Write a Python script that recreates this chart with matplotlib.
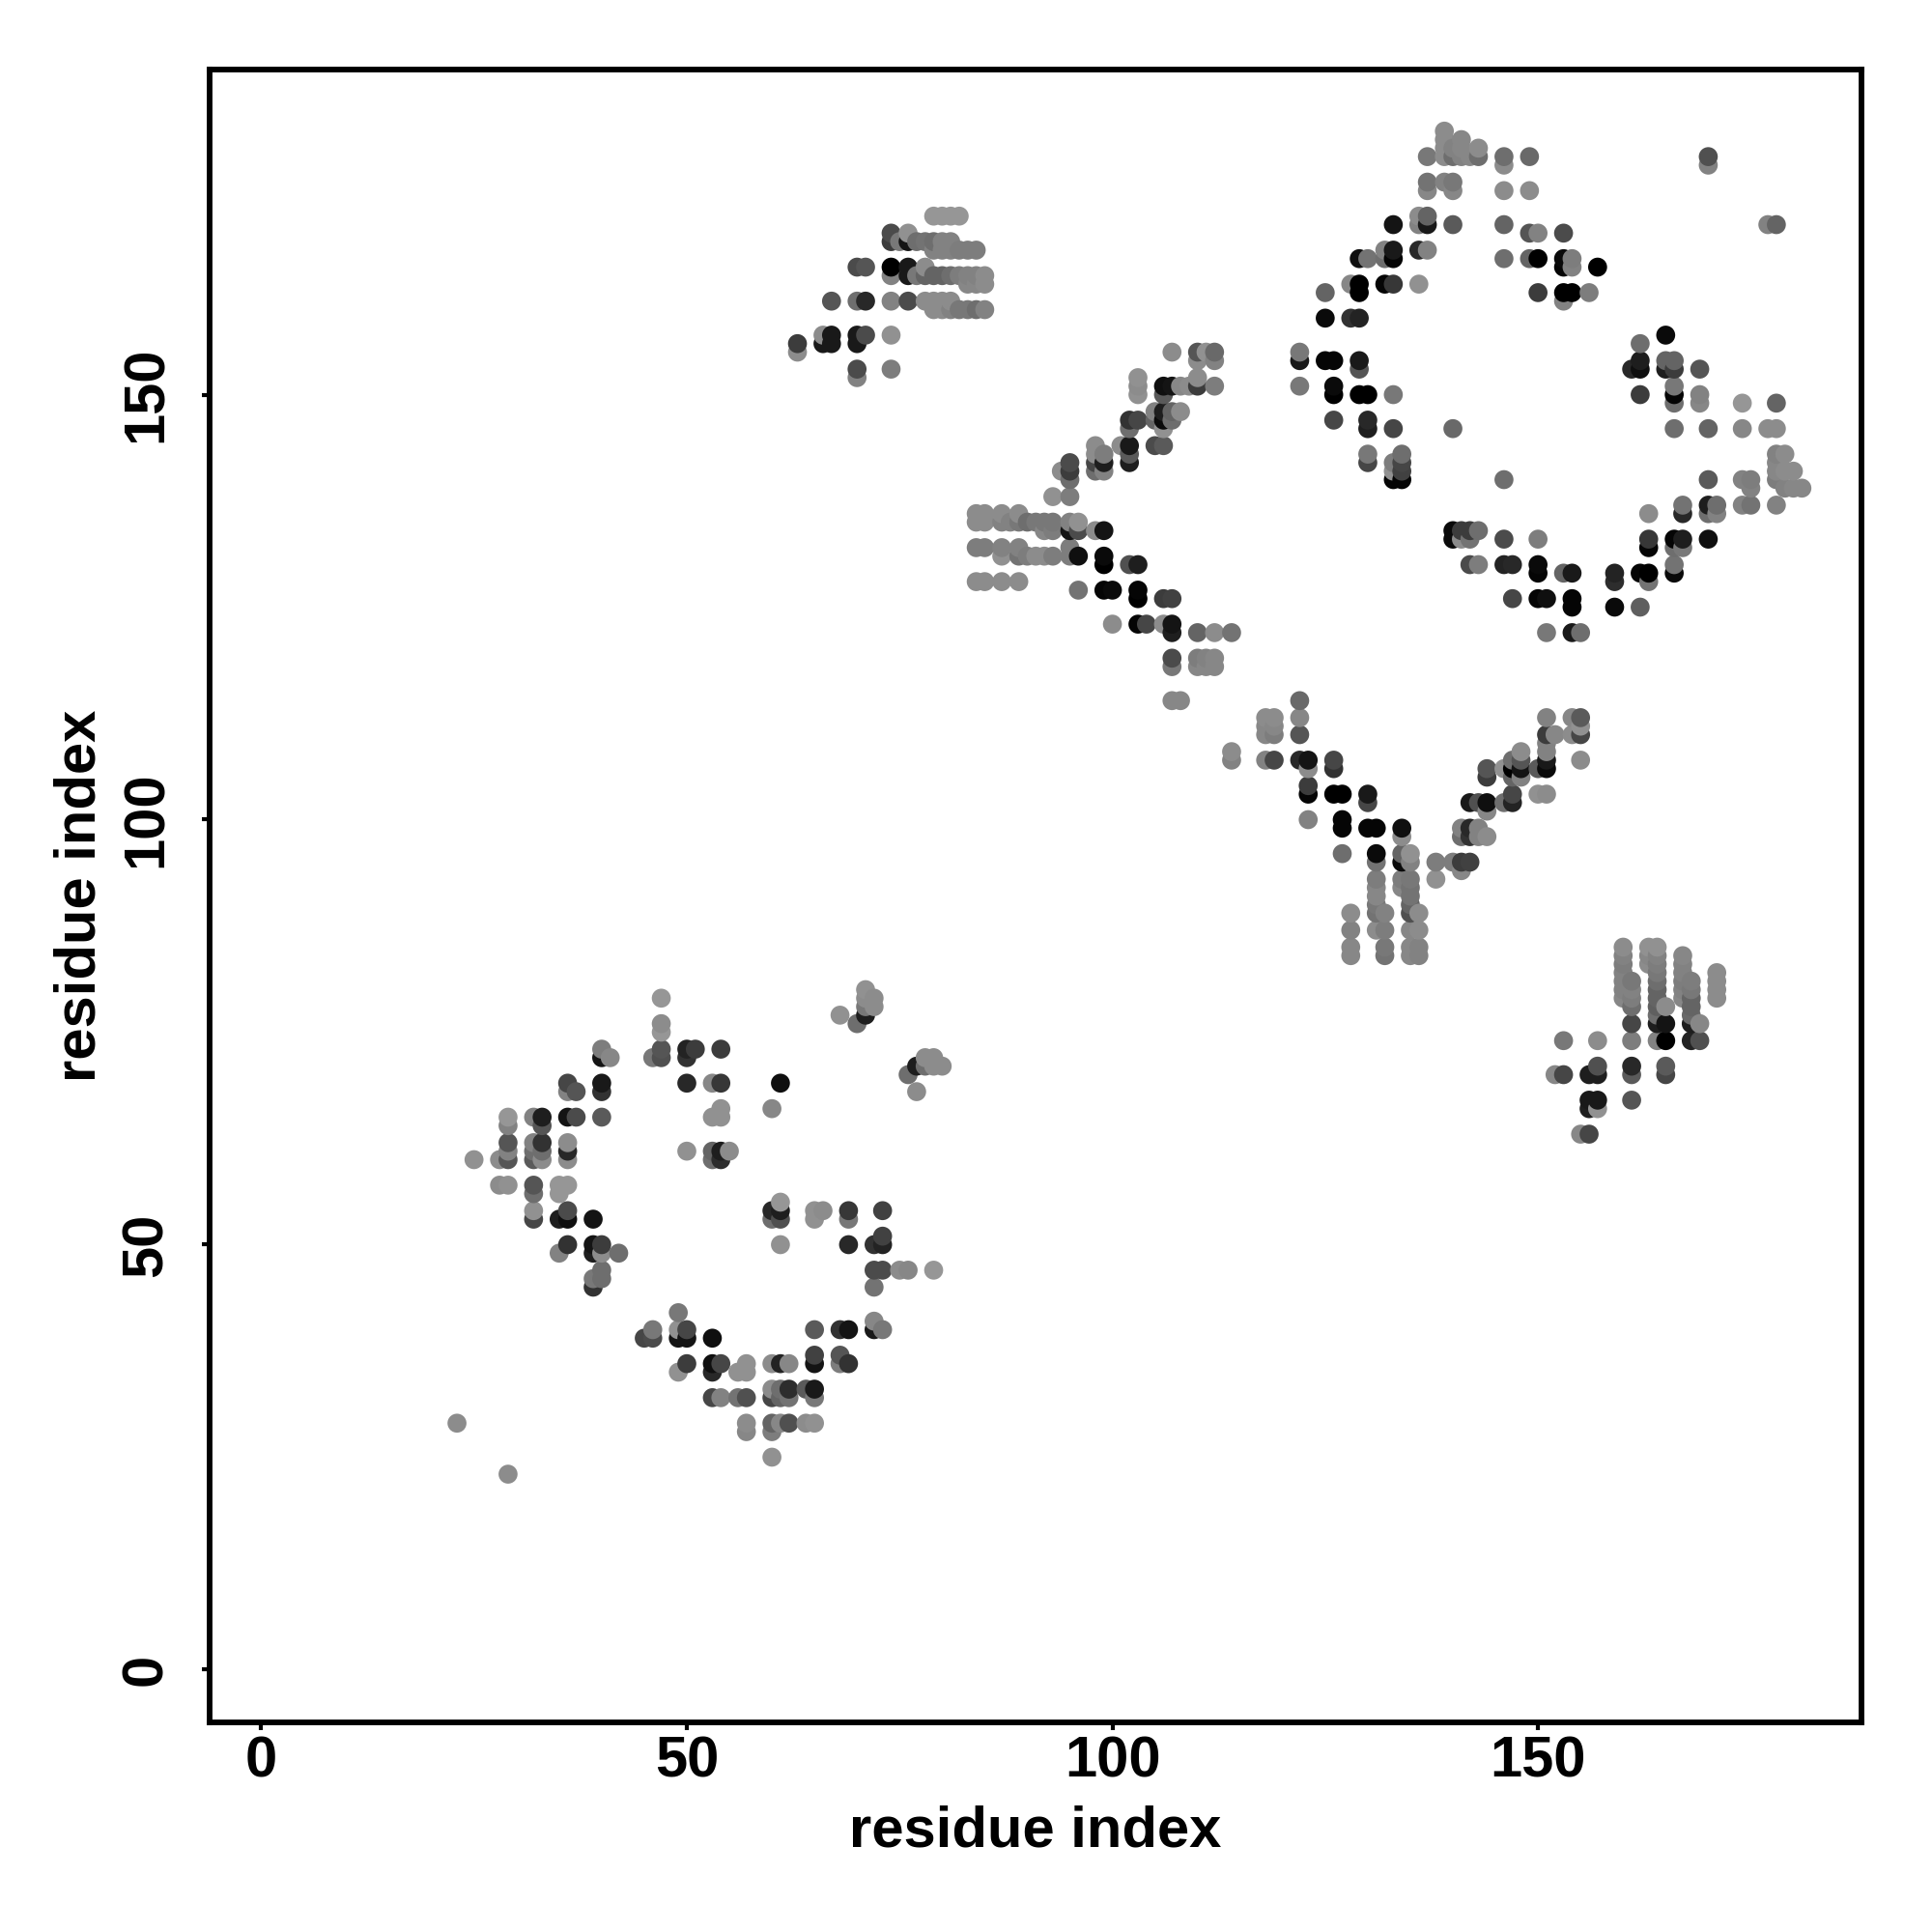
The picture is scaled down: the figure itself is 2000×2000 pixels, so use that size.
import matplotlib
matplotlib.use("Agg")
import matplotlib.pyplot as plt
import numpy as np

plt.rcParams['font.family'] = ['Liberation Sans', 'DejaVu Sans']

# contacts as (residue x, residue y, grey level 0-255)
lower_left_a = [(23,29,140),(29,23,140),(25,60,145),(28,60,140),(29,60,85),(29,61,130),(29,62,85),(29,64,130),(29,65,150),
 (28,57,140),(29,57,145),(32,65,130),(33,65,30),(33,64,85),(32,62,130),(32,61,110),(32,60,90),(33,62,50),(33,61,110),(33,60,140),
 (32,57,85),(32,56,110),(32,54,145),(32,53,70),(35,57,150),(35,56,150),(36,57,150),(36,62,140),(36,61,40),(36,60,140),
 (36,65,20),(37,65,75),(36,68,130),(36,69,70),(37,68,85),(40,69,25),(40,68,50),(40,65,90),(40,72,20),(40,73,125),(41,72,135),
 (35,53,30),(36,53,15),(36,54,75),(39,53,20),(47,79,150),(47,76,140),(47,75,150),(47,73,85),(47,72,80),(46,72,120),
 (50,73,35),(50,72,50),(51,73,60),(50,69,40),(50,61,145),(54,73,60),(53,69,135),(54,69,55),(54,66,145),(53,65,145),(54,65,145),
 (53,61,100),(54,61,30),(55,61,140),(53,60,110),(54,60,45),(61,69,15),(60,66,135),
 (35,49,130),(36,50,50),(39,50,20),(40,50,60),(39,49,30),(40,49,140),(42,49,110),(40,47,110),(40,46,110),(39,46,120),(39,45,50)]
lower_left_b = [(71,80,145),(71,79,140),(72,79,140),(72,78,140),(71,78,120),(71,77,30),(70,76,110),(68,77,145),
 (77,68,140),(76,70,110),(77,71,30),(78,71,110),(78,72,140),(79,72,140),(79,71,140),(80,71,140),
 (61,55,150),(61,54,30),(61,53,80),(60,54,40),(60,53,110),(61,50,145),(65,54,145),(65,53,145),(66,54,140),
 (69,54,55),(69,53,120),(69,50,40),(73,54,65),(73,51,65),(72,50,50),(73,50,35),(72,47,75),(73,47,75),(75,47,140),(76,47,135),(79,47,150),
 (72,45,115),(49,42,120),(46,40,120),(49,40,145),(50,40,70),(45,39,70),(46,39,75),(49,39,20),(50,39,20),(53,39,15),
 (50,36,60),(53,36,15),(54,36,70),(57,36,145),(49,35,145),(53,35,40),(56,35,145),(57,35,145),(60,36,140),(61,36,35),(62,36,135),
 (65,37,65),(65,36,20),(68,37,85),(68,36,125),(69,36,50),(65,40,90),(68,40,50),(69,40,20),(72,41,135),(72,40,25),(73,40,120),
 (60,33,140),(61,33,110),(62,33,45),(64,33,90),(65,33,25),(53,32,70),(54,32,130),(56,32,115),(57,32,80),(60,32,70),(61,32,100),(62,32,115),(65,32,120),
 (57,29,140),(60,29,100),(61,29,135),(62,29,80),(64,29,140),(65,29,145),(57,28,135),(60,28,125),(60,25,145)]
upper_mid = [(63,156,60),(63,155,140),(66,157,140),(66,156,25),(67,157,25),(67,156,25),(70,157,25),(70,156,25),(71,157,75),(74,157,145),
 (70,153,75),(70,152,130),(74,153,125),(67,161,85),(70,161,110),(71,161,40),(74,161,130),(76,161,75),(78,161,140),(79,161,140),(80,161,140),(81,161,140),
 (79,160,140),(80,160,140),(81,160,130),(82,160,120),(83,160,120),(84,160,110),(85,160,130),
 (70,165,75),(71,165,85),(74,165,0),(76,165,25),(78,165,140),(74,164,130),(76,164,25),(77,164,120),(78,164,100),(79,164,100),(80,164,100),(81,164,110),(82,164,125),(83,164,130),(84,164,130),(85,164,140),
 (83,163,135),(84,163,135),(85,163,140),(74,169,75),(76,169,145),(74,168,60),(75,168,120),(76,168,20),(77,168,110),(78,168,115),(79,168,110),(80,168,130),(81,168,130),
 (79,167,130),(80,167,130),(81,167,130),(82,167,125),(83,167,125),(84,167,125),(79,171,150),(80,171,150),(81,171,150),(82,171,150)]
diagonal_up = [(107,155,140),(110,155,85),(111,155,145),(112,155,105),(110,154,140),(112,154,130),(103,152,145),(110,152,140),
 (103,151,140),(106,151,15),(107,151,20),(108,151,135),(109,151,140),(110,151,60),(112,151,125),(103,150,145),(106,150,90),
 (105,148,130),(106,148,30),(107,148,100),(108,148,140),(102,147,50),(103,147,70),(105,147,100),(106,147,10),(107,147,110),(102,146,110),(106,146,145),
 (101,144,140),(102,144,25),(105,144,75),(106,144,90),(98,144,140),(98,143,140),(102,143,90),(99,143,125),(95,142,75),(98,142,70),(99,142,30),(102,142,30),
 (94,141,140),(95,141,60),(98,141,110),(99,141,130),(95,140,110),(93,138,145),(95,138,125)]
diagonal_band = [(84,136,140),(85,136,140),(87,136,140),(89,136,140),(84,135,140),(85,135,140),(87,135,130),(88,135,130),(89,135,120),(90,135,110),(91,135,120),(92,135,120),(93,135,120),(95,135,130),(96,135,145),
 (92,134,135),(93,134,125),(95,134,20),(96,134,75),(98,134,140),(99,134,20),(84,132,125),(85,132,125),(87,132,130),(89,132,130),(95,132,125),
 (87,131,145),(89,131,115),(90,131,125),(91,131,140),(92,131,140),(93,131,125),(95,131,125),(96,131,15),(99,131,10),(99,130,0),(102,130,80),(103,130,30),
 (84,128,140),(85,128,140),(87,128,140),(89,128,140),(96,127,115),(99,127,5),(100,127,10),(103,127,5),(103,126,0),(106,126,60),(107,126,65),
 (100,123,140),(103,123,5),(104,123,70),(106,123,140),(107,123,20),(107,122,30),(110,122,100),(112,122,140),(114,122,115),
 (107,119,75),(110,119,125),(111,119,130),(112,119,135),(107,118,120),(110,118,135),(111,118,135),(112,118,135),(107,114,135),(108,114,135)]
v_shape = [(122,114,105),(118,112,140),(119,112,140),(122,112,135),(118,111,135),(119,111,135),(118,110,135),(119,110,125),(122,110,85),
 (114,108,140),(114,107,130),(118,107,130),(119,107,70),(122,107,40),(123,107,20),(126,107,70),(126,106,50),(123,106,140),(123,104,60),(123,103,5),(126,103,0),(127,103,0),(130,103,25),(130,102,70),
 (123,100,130),(127,100,5),(127,99,5),(130,99,5),(131,99,5),(134,99,15),(134,98,140),(127,96,110),(131,96,10),(134,96,100),(135,96,145),(131,95,115),(134,95,10),(135,95,130),
 (131,93,125),(134,93,125),(135,93,120),(131,92,135),(134,92,135),(135,92,115),(131,91,135),(135,91,115),(131,90,120),(135,90,100),
 (128,89,140),(131,89,115),(132,89,130),(135,89,80),(136,89,140),(128,87,130),(131,87,140),(132,87,125),(135,87,135),(136,87,140),
 (128,85,135),(132,85,120),(135,85,135),(136,85,130),(128,84,135),(132,84,115),(135,84,135),(136,84,130),
 (138,95,125),(138,93,145),(140,95,125),(141,95,60),(142,95,65),(141,94,135),(141,99,130),(141,98,110),(142,99,40),(142,98,50),(143,99,130),(143,98,130),(144,98,140),
 (142,102,25),(143,102,80),(144,102,15),(144,101,135),(144,106,85),(144,105,60),(146,102,110),(147,102,35),(147,103,70),
 (146,106,145),(147,106,0),(148,106,20),(150,106,90),(151,106,10),(147,107,110),(148,107,85),(151,107,25),(148,108,140),(151,108,130),(147,105,100),(148,105,130),
 (150,103,145),(151,103,140),(151,110,60),(152,110,135),(154,110,140),(155,110,70),(151,109,130),(151,112,130),(154,112,135),(155,112,90),(155,111,145),(155,107,140)]
top_right = [(139,181,140),(139,180,140),(139,179,140),(139,178,140),(141,180,135),(141,179,135),(141,178,130),(140,179,130),(140,178,110),(142,178,135),(143,179,140),(143,178,110),
 (137,178,120),(146,178,110),(146,177,140),(149,178,105),(137,175,115),(139,175,130),(140,175,120),(137,174,135),(140,174,135),(146,174,140),(149,174,140),
 (136,171,140),(137,171,100),(133,170,20),(136,170,130),(137,170,25),(140,170,90),(146,170,100),(149,169,85),(150,169,130),(153,169,75),
 (132,167,130),(133,167,25),(136,167,40),(137,167,130),(129,166,15),(130,166,115),(132,166,110),(133,166,5),(146,166,110),(149,166,100),(150,166,0),(153,166,10),(154,166,125),
 (153,165,5),(154,165,130),(157,165,0),(128,163,135),(129,163,0),(132,163,5),(133,163,55),(136,163,145),(125,162,100),(129,162,0),(150,162,60),(153,162,0),(154,162,0),(156,162,125),(153,161,130),
 (125,159,10),(128,159,50),(129,159,35),(122,155,120),(122,154,25),(125,154,5),(126,154,5),(129,154,25),(129,153,85),(122,151,120),(126,151,10),(126,150,0),(129,150,0),(130,150,0),(133,150,120),
 (126,147,70),(130,147,40),(130,146,30),(133,146,70),(140,146,105),(130,143,120),(134,143,110),(130,142,70),(133,142,125),(134,142,70),(133,141,145),(134,141,65),(133,140,5),(134,140,5),(146,140,110)]
right_ring = [(140,134,10),(141,134,60),(142,134,60),(143,134,110),(140,133,10),(141,133,140),(142,133,115),(146,133,75),(150,133,125),
 (142,130,75),(143,130,125),(146,130,35),(147,130,40),(150,130,10),(150,129,5),(153,129,100),(154,129,25),(159,129,35),(162,129,5),(163,129,0),(166,129,10),(159,128,45),(163,128,115),(166,130,115),
 (147,126,70),(150,126,5),(151,126,15),(154,126,5),(154,125,5),(159,125,10),(162,125,95),(151,122,120),(154,122,25),(155,122,110),
 (163,133,55),(166,133,5),(167,133,30),(170,133,15),(163,132,5),(166,132,110),(167,132,120),(163,136,140),(167,137,115),(167,136,40),(170,137,30),(171,137,110),(170,136,110),(171,136,130),
 (174,137,130),(175,137,115),(178,137,130),(175,139,130),(174,140,130),(175,140,125),(178,149,100),(174,149,150),(174,146,135),(177,146,140),(178,146,140),(178,143,130),(179,143,140),(178,142,135),(178,141,135),(179,141,140),(180,141,140),(181,139,135),(178,140,125),(179,139,130),(180,139,135),
 (170,146,100),(169,150,130),(169,149,135),(169,153,85),(162,156,110),(162,154,30),(161,153,40),(162,153,15),(162,150,60),(165,157,10),(165,154,100),(166,154,100),(165,153,30),(166,153,60),(166,151,120),(166,150,5),(166,149,110),(166,146,110),(170,140,90),
 (170,178,80),(170,177,130),(177,170,130),(178,170,100)]
lower_right = [(153,74,120),(157,74,140),(161,74,125),(164,74,130),(165,74,0),(168,74,35),(169,74,80),(161,76,70),(164,76,30),(165,76,20),(168,76,30),(169,76,135),(165,78,140),
 (157,71,80),(161,71,40),(165,71,90),(152,70,135),(153,70,70),(156,70,30),(157,70,30),(161,70,90),(165,70,70),(156,67,25),(157,67,25),(161,67,85),(156,66,30),(157,66,145),(155,63,135),(156,63,70),
 (160,85,140),(160,84,130),(160,83,125),(160,82,130),(160,81,130),(160,80,130),(160,79,135),(161,81,120),(161,80,130),(161,79,125),(161,78,110),
 (163,85,145),(163,84,135),(163,83,140),(164,85,145),(164,84,130),(164,83,125),(164,82,120),(164,81,110),(164,80,100),(164,79,100),(164,78,95),(164,77,110),
 (167,84,135),(167,83,130),(167,82,130),(167,81,125),(167,80,130),(167,79,135),(168,81,125),(168,80,120),(168,79,100),(168,78,100),(168,77,105),
 (171,82,140),(171,81,140),(171,80,140),(171,79,140)]

x_ticks = [0, 50, 100, 150]
y_ticks = [0, 50, 100, 150]
x_label = "residue index"
y_label = "residue index"

all_contacts = (lower_left_a + lower_left_b + upper_mid + diagonal_up + diagonal_band
                + v_shape + top_right + right_ring + lower_right)
contacts = np.array(all_contacts, dtype=float)
order = np.lexsort((contacts[:, 1], contacts[:, 0]))
contacts = contacts[order]

fig = plt.figure(figsize=(20, 20), dpi=100)
ax = fig.add_axes([217/2000, 1 - 1783/2000, (1927-217)/2000, (1783-71.5)/2000])
greys = contacts[:, 2] / 255.0
ax.scatter(contacts[:, 0], contacts[:, 1], s=200, c=np.c_[greys, greys, greys], linewidths=0, clip_on=False, zorder=3)
ax.set_xlim(-6.06, 188.0)
ax.set_ylim(-6.2, 188.3)
for s in ax.spines.values():
    s.set_linewidth(4.2)
    s.set_color('black')
ax.set_xticks(x_ticks)
ax.set_yticks(y_ticks)
ax.tick_params(axis='both', length=6, width=3, labelsize=43)
ax.tick_params(axis='x', pad=4)
ax.tick_params(axis='y', pad=21)
for t in ax.get_xticklabels():
    t.set_fontweight('bold')
for t in ax.get_yticklabels():
    t.set_fontweight('bold')
    t.set_rotation(90)
    t.set_va('center')
ax.set_xlabel(x_label, fontsize=43, fontweight='bold', labelpad=12)
ax.set_ylabel(y_label, fontsize=43, fontweight='bold', labelpad=10)
fig.savefig('out.png', dpi=100, facecolor='white')
